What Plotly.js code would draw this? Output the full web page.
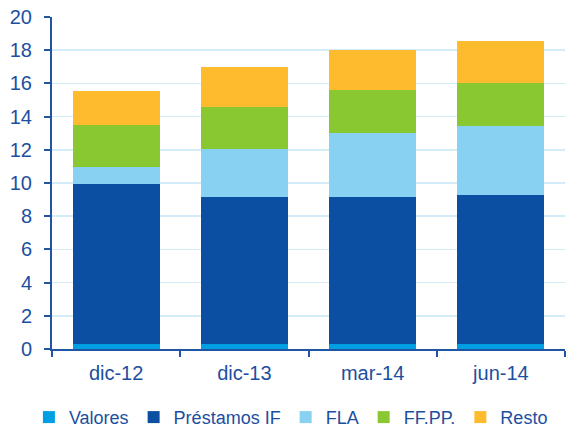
<!DOCTYPE html>
<html>
<head>
<meta charset="utf-8">
<script src="https://cdn.plot.ly/plotly-3.0.1.min.js"></script>
<style>
  html, body { margin: 0; padding: 0; background: #ffffff; }
  #chart { width: 573px; height: 429px; }
</style>
</head>
<body>
<div id="chart"></div>
<script>
// Datos (mm de euros)
const categories = ['dic-12', 'dic-13', 'mar-14', 'jun-14'];
const valores    = [0.30, 0.28, 0.30, 0.28];
const prestamos  = [9.66, 8.86, 8.88, 8.98];
const fla        = [1.02, 2.88, 3.84, 4.18];
const ffpp       = [2.50, 2.56, 2.57, 2.58];
const resto      = [2.07, 2.40, 2.44, 2.53];
const yTicks     = [0, 2, 4, 6, 8, 10, 12, 14, 16, 18, 20];

const textColor = '#1c4f9f';
const axisColor = '#2155a3';

const series = [
    { name: 'Valores', y: valores, color: '#009fe3' },
    { name: 'Préstamos IF', y: prestamos, color: '#0b4fa3' },
    { name: 'FLA', y: fla, color: '#89d1f2' },
    { name: 'FF.PP.', y: ffpp, color: '#8ac832' },
    { name: 'Resto', y: resto, color: '#fdbb2d' }
];

const traces = series.map(s => ({
    type: 'bar',
    name: s.name,
    x: categories,
    y: s.y,
    marker: { color: s.color, line: { width: 0 } },
    hoverinfo: 'name+y'
}));

const layout = {
    barmode: 'stack',
    bargap: 0.32,
    width: 573,
    height: 429,
    // keep the plot area fixed; the legend sits inside the bottom margin
    margin: { l: 52, r: 8, t: 17, b: 80, autoexpand: false },
    paper_bgcolor: '#ffffff',
    plot_bgcolor: '#ffffff',
    font: { family: 'Liberation Sans, Arial, sans-serif', size: 20, color: textColor },
    showlegend: true,
    // legend placed left of the plot area (x < 0) so it can use the full width on one row
    legend: {
        orientation: 'h',
        x: -0.045, xanchor: 'left',
        y: -0.206, yanchor: 'middle',
        font: { size: 18, color: textColor },
        itemwidth: 30,
        traceorder: 'normal'
    },
    xaxis: {
        type: 'category',
        showline: true,
        linecolor: axisColor,
        linewidth: 2,
        ticks: 'outside',
        tickson: 'boundaries',
        ticklen: 6,
        tickwidth: 2,
        tickcolor: axisColor,
        ticklabelstandoff: 5,
        tickfont: { size: 20, color: textColor },
        showgrid: false,
        zeroline: false
    },
    yaxis: {
        range: [0, 20],
        tickvals: yTicks,
        showline: true,
        linecolor: axisColor,
        linewidth: 2,
        ticks: 'outside',
        ticklen: 6,
        tickwidth: 2,
        tickcolor: axisColor,
        ticklabelstandoff: 8,
        tickfont: { size: 20, color: textColor },
        showgrid: true,
        gridcolor: '#d3ecf8',
        gridwidth: 1.5,
        zeroline: false
    }
};

Plotly.newPlot('chart', traces, layout, { displayModeBar: false, staticPlot: true });
</script>
</body>
</html>
